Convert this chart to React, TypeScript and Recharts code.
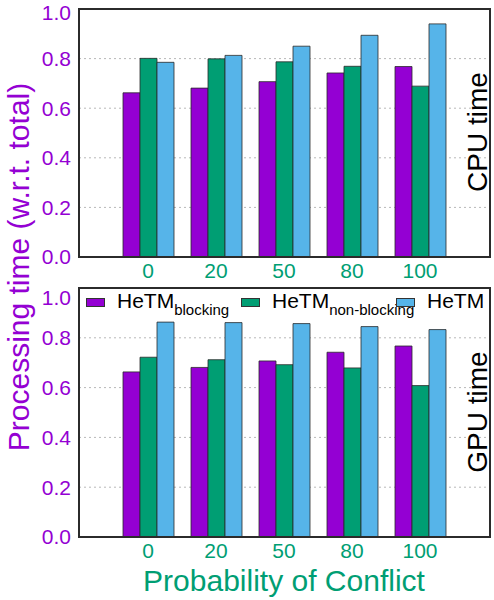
import React from 'react';
import { BarChart, Bar, XAxis, YAxis, CartesianGrid } from 'recharts';

const categories = ['0', '20', '50', '80', '100'];

// CPU share of the total processing time
const cpuBlocking = [0.662, 0.681, 0.707, 0.742, 0.768];
const cpuNonBlocking = [0.801, 0.799, 0.787, 0.769, 0.689];
const cpuHetm = [0.785, 0.813, 0.85, 0.894, 0.94];

// GPU share of the total processing time
const gpuBlocking = [0.663, 0.681, 0.707, 0.742, 0.767];
const gpuNonBlocking = [0.722, 0.712, 0.692, 0.679, 0.608];
const gpuHetm = [0.863, 0.861, 0.857, 0.845, 0.833];

const yTicks = [0, 0.2, 0.4, 0.6, 0.8, 1.0];

const legendItems = [
  { main: 'HeTM', sub: 'blocking', color: '#9400D3' },
  { main: 'HeTM', sub: 'non-blocking', color: '#009E73' },
  { main: 'HeTM', sub: '', color: '#56B4E9' },
];

const PURPLE = '#9400D3';
const GREEN = '#009E73';
const BLUE = '#56B4E9';
const FRAME = '#2b2b2b';
const FONT = '"Liberation Sans", Arial, Helvetica, sans-serif';

const buildRows = (a: number[], b: number[], c: number[]) =>
  categories.map((cat, i) => ({ cat, blocking: a[i], nonBlocking: b[i], hetm: c[i] }));

interface PanelProps {
  rows: ReturnType<typeof buildRows>;
  height: number;
  margin: { top: number; right: number; left: number; bottom: number };
}

const Panel: React.FC<PanelProps> = ({ rows, height, margin }) => (
  <BarChart
    width={494}
    height={height}
    data={rows}
    margin={margin}
    barGap={0}
    barSize={17}
    style={{ fontFamily: FONT }}
  >
    <CartesianGrid horizontal vertical={false} stroke="#b8b8b8" strokeDasharray="2 3" />
    <XAxis
      dataKey="cat"
      height={28}
      padding={{ left: 35, right: 36 }}
      tickLine={false}
      tickMargin={0}
      axisLine={{ stroke: FRAME, strokeWidth: 2 }}
      tick={{ fill: GREEN, fontSize: 21 }}
    />
    <YAxis
      width={79}
      domain={[0, 1]}
      ticks={yTicks}
      tickLine={false}
      axisLine={{ stroke: FRAME, strokeWidth: 2 }}
      tick={{ fill: PURPLE, fontSize: 21 }}
      tickFormatter={(v: number) => v.toFixed(1)}
    />
    <Bar dataKey="blocking" fill={PURPLE} stroke="#2a2a2a" strokeWidth={0.8} isAnimationActive={false} />
    <Bar dataKey="nonBlocking" fill={GREEN} stroke="#2a2a2a" strokeWidth={0.8} isAnimationActive={false} />
    <Bar dataKey="hetm" fill={BLUE} stroke="#2a2a2a" strokeWidth={0.8} isAnimationActive={false} />
  </BarChart>
);

// fixed-width legend slots, laid out along the top of the GPU panel
const LegendRow = () => (
  <div style={{ position: 'absolute', left: 86, top: 290, display: 'flex', fontFamily: FONT }}>
    {legendItems.map((item, i) => (
      <div key={i} style={{ width: 155, flexShrink: 0, display: 'flex', alignItems: 'flex-start', whiteSpace: 'nowrap' }}>
        <div
          style={{
            width: 19,
            height: 9,
            flexShrink: 0,
            marginTop: 8,
            marginRight: 12,
            background: item.color,
            border: '1px solid #333',
            boxSizing: 'border-box',
          }}
        />
        <span style={{ fontSize: 21, lineHeight: '22px', color: '#000' }}>
          {item.main}
          {item.sub && <sub style={{ fontSize: 15, verticalAlign: '-7px', lineHeight: 0 }}>{item.sub}</sub>}
        </span>
      </div>
    ))}
  </div>
);

export default function App() {
  const cpuRows = buildRows(cpuBlocking, cpuNonBlocking, cpuHetm);
  const gpuRows = buildRows(gpuBlocking, gpuNonBlocking, gpuHetm);

  return (
    <div style={{ position: 'absolute', left: 0, top: 0, width: 494, height: 600, background: '#fff' }}>
      <div style={{ position: 'absolute', left: 0, top: 0 }}>
        <Panel rows={cpuRows} height={285} margin={{ top: 9, right: 4, left: 0, bottom: 0 }} />
      </div>
      <div style={{ position: 'absolute', left: 0, top: 285 }}>
        <Panel rows={gpuRows} height={315} margin={{ top: 3, right: 4, left: 0, bottom: 35 }} />
      </div>
      <LegendRow />
      <svg
        width={494}
        height={600}
        style={{ position: 'absolute', left: 0, top: 0, pointerEvents: 'none', fontFamily: FONT }}
      >
        {/* boxes around both plot areas */}
        <path d="M79 9 H490 V257 H79 Z" fill="none" stroke={FRAME} strokeWidth={2} />
        <path d="M79 288 H490 V537 H79 Z" fill="none" stroke={FRAME} strokeWidth={2} />
        <text x={0} y={0} transform="translate(29 267) rotate(-90)" textAnchor="middle" fontSize={30} fill={PURPLE}>
          Processing time (w.r.t. total)
        </text>
        <text x={0} y={0} transform="translate(487 132) rotate(-90)" textAnchor="middle" fontSize={28} fill="#000">
          CPU time
        </text>
        <text x={0} y={0} transform="translate(487 412) rotate(-90)" textAnchor="middle" fontSize={28} fill="#000">
          GPU time
        </text>
        <text x={284} y={591} textAnchor="middle" fontSize={30} fill={GREEN}>
          Probability of Conflict
        </text>
      </svg>
    </div>
  );
}
